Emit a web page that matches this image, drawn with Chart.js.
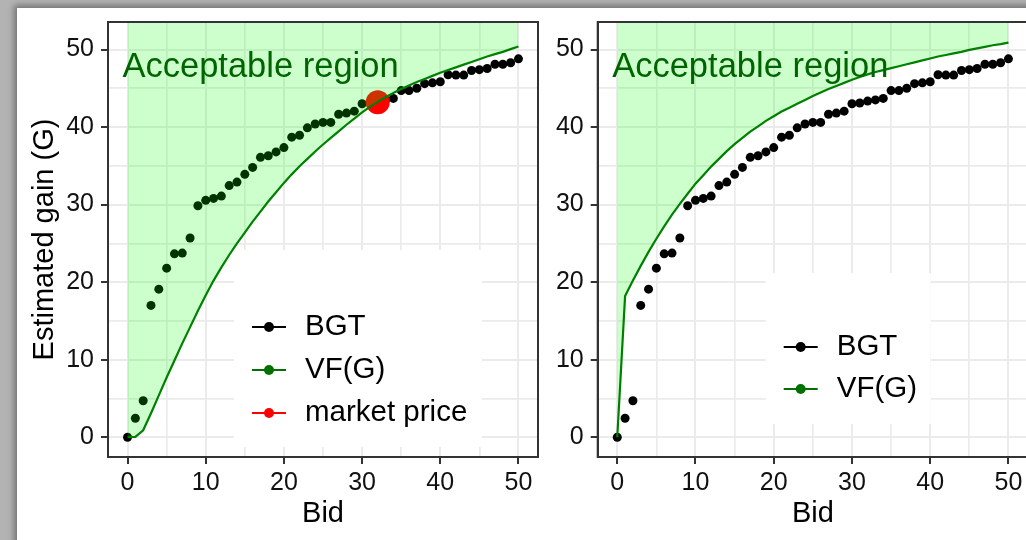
<!DOCTYPE html>
<html>
<head>
<meta charset="utf-8">
<script src="https://cdn.jsdelivr.net/npm/chart.js@4.4.1/dist/chart.umd.min.js"></script>
<style>
  html, body { margin: 0; padding: 0; }
  body { width: 1026px; height: 540px; overflow: hidden; position: relative; background: #b3b3b3; }
  #sheet { position: absolute; left: 17px; top: 8px; width: 1040px; height: 560px; background: #fff;
           box-shadow: -3px -3px 6px rgba(0,0,0,0.35); }
  canvas { position: absolute; top: 0; }
  #left { left: 0; }
  #right { left: 540px; }
</style>
</head>
<body>
<div id="sheet"></div>
<canvas id="left" width="560" height="540"></canvas>
<canvas id="right" width="500" height="540"></canvas>
<script>
// bids on the x axis
const bids = [0, 1, 2, 3, 4, 5, 6, 7, 8, 9, 10, 11, 12, 13, 14, 15, 16, 17, 18, 19, 20,
  21, 22, 23, 24, 25, 26, 27, 28, 29, 30, 31, 32, 33, 34, 35, 36, 37, 38, 39, 40,
  41, 42, 43, 44, 45, 46, 47, 48, 49, 50];

// estimated gain (BGT), same in both panels
const bgt = [0, 2.45, 4.7, 17.0, 19.1, 21.8, 23.65, 23.75, 25.7, 29.85, 30.55,
  30.8, 31.1, 32.45, 32.9, 33.9, 34.8, 36.1, 36.3, 36.8, 37.35,
  38.7, 38.95, 39.9, 40.4, 40.6, 40.6, 41.65, 41.8, 42.05, 43.0,
  43.1, 43.35, 43.5, 43.7, 44.7, 44.7, 45.0, 45.6, 45.7, 45.85,
  46.75, 46.7, 46.7, 47.3, 47.4, 47.55, 48.1, 48.1, 48.3, 48.8];

// value function, left panel
const vfLeft = [0, 0.05, 0.9, 3.1, 5.4, 7.7, 9.9, 12.1, 14.2, 16.3, 18.3,
  20.2, 21.9, 23.5, 25.0, 26.4, 27.8, 29.1, 30.4, 31.6, 32.8,
  33.9, 34.95, 35.9, 36.85, 37.75, 38.6, 39.45, 40.3, 41.1, 41.9,
  42.6, 43.25, 43.85, 44.4, 44.9, 45.35, 45.8, 46.2, 46.6, 47.0,
  47.35, 47.7, 48.05, 48.4, 48.75, 49.1, 49.4, 49.7, 50.05, 50.4];

// value function, right panel
const vfRight = [0, 18.2, 20.2, 22.1, 23.9, 25.6, 27.2, 28.7, 30.1, 31.4, 32.7,
  33.8, 34.9, 35.9, 36.9, 37.8, 38.6, 39.4, 40.1, 40.8, 41.4,
  42.0, 42.5, 43.0, 43.5, 44.0, 44.45, 44.9, 45.3, 45.7, 46.1,
  46.45, 46.8, 47.1, 47.35, 47.6, 47.85, 48.1, 48.35, 48.6, 48.85,
  49.1, 49.3, 49.5, 49.7, 49.95, 50.15, 50.35, 50.55, 50.7, 50.9];

// market price point (left panel only)
const marketBid = [32];
const marketGain = [43.2];

const xMajor = [0, 10, 20, 30, 40, 50];
const xMinor = [5, 15, 25, 35, 45];
const yMajor = [0, 10, 20, 30, 40, 50];
const yMinor = [5, 15, 25, 35, 45];

const regionText = 'Acceptable region';

Chart.defaults.font.family = '"Liberation Sans", Arial, sans-serif';
Chart.defaults.color = '#111';

const pts = (xs, ys) => xs.map((x, i) => ({ x: x, y: ys[i] }));

function axis(major, minor, min, max, title, fit, pad) {
  const all = major.concat(minor).sort((a, b) => a - b);
  return {
    type: 'linear',
    min: min,
    max: max,
    afterBuildTicks: s => { s.ticks = all.map(v => ({ value: v })); },
    afterFit: fit,
    ticks: {
      autoSkip: false,
      maxRotation: 0,
      padding: pad,
      font: { size: 25 },
      color: '#111',
      callback: v => major.includes(v) ? String(v) : ''
    },
    grid: {
      color: '#ebebeb',
      lineWidth: c => major.includes(c.tick.value) ? 2 : 1.7,
      tickColor: c => major.includes(c.tick.value) ? '#333' : 'rgba(0,0,0,0)',
      tickWidth: 2,
      tickLength: 7
    },
    border: { color: '#333', width: 2 },
    title: title
  };
}

// panel border on the top and right sides
const panelBox = {
  id: 'panelBox',
  afterDraw(chart) {
    const { ctx, chartArea: a } = chart;
    ctx.save();
    ctx.strokeStyle = '#333';
    ctx.lineWidth = 2;
    ctx.strokeRect(a.left, a.top, a.right - a.left, a.bottom - a.top);
    ctx.restore();
  }
};

// "Acceptable region" label, placed in data units
const regionLabel = {
  id: 'regionLabel',
  afterDatasetsDraw(chart) {
    const { ctx, scales } = chart;
    ctx.save();
    ctx.fillStyle = '#006400';
    ctx.font = '34.5px "Liberation Sans"';
    ctx.textBaseline = 'alphabetic';
    ctx.fillText(regionText, scales.x.getPixelForValue(-0.65), scales.y.getPixelForValue(46.4));
    ctx.restore();
  }
};

// ggplot-like legend inside the panel
const keyLegend = {
  id: 'keyLegend',
  afterDraw(chart, args, o) {
    const { ctx, chartArea: a } = chart;
    ctx.save();
    ctx.fillStyle = '#fff';
    ctx.fillRect(a.left + o.box[0], a.top + o.box[1], o.box[2], o.box[3]);
    o.names.forEach((name, i) => {
      const ds = chart.data.datasets.find(d => d.label === name);
      const col = ds.legendColor;
      const x = a.left + o.keyX;
      const y = a.top + o.rowY + i * o.rowGap;
      ctx.strokeStyle = col;
      ctx.lineWidth = 2;
      ctx.beginPath();
      ctx.moveTo(x - 17, y);
      ctx.lineTo(x + 17, y);
      ctx.stroke();
      ctx.fillStyle = col;
      ctx.beginPath();
      ctx.arc(x, y, 5, 0, Math.PI * 2);
      ctx.fill();
      ctx.fillStyle = '#000';
      ctx.font = '29.5px "Liberation Sans"';
      ctx.textBaseline = 'middle';
      ctx.fillText(name, x + 36, y);
    });
    ctx.restore();
  }
};

function vfSet(vals) {
  return {
    label: 'VF(G)',
    data: pts(bids, vals),
    borderColor: '#008000',
    legendColor: '#007000',
    borderWidth: 2.2,
    pointRadius: 0,
    tension: 0,
    fill: 'end',
    backgroundColor: 'rgba(0,255,0,0.2)',
    order: 0
  };
}

function bgtSet() {
  return {
    label: 'BGT',
    data: pts(bids, bgt),
    showLine: false,
    pointRadius: 4.5,
    pointBorderWidth: 0,
    pointBackgroundColor: '#000',
    legendColor: '#000',
    order: 2
  };
}

const yTitle = { display: true, text: 'Estimated gain (G)', font: { size: 29 }, color: '#000', padding: { top: 28 } };
const xTitle = { display: true, text: 'Bid', font: { size: 29 }, color: '#000', padding: { bottom: 9 } };

new Chart(document.getElementById('left'), {
  type: 'line',
  data: {
    datasets: [
      vfSet(vfLeft),
      {
        label: 'market price',
        data: pts(marketBid, marketGain),
        showLine: false,
        pointRadius: 12,
        pointBorderWidth: 0,
        pointBackgroundColor: '#ff0000',
        legendColor: '#ff0000',
        order: 1
      },
      bgtSet()
    ]
  },
  options: {
    responsive: false,
    animation: false,
    layout: { padding: { top: 22, right: 22, left: 0, bottom: 0 } },
    scales: {
      x: axis(xMajor, xMinor, -2.5, 52.5, xTitle, s => { s.height = 83; }, 4),
      y: axis(yMajor, yMinor, -2.55, 53.55, yTitle, s => { s.width = 108; }, 7)
    },
    plugins: {
      legend: { display: false },
      tooltip: { enabled: false },
      keyLegend: { names: ['BGT', 'VF(G)', 'market price'], box: [126, 228, 248, 197], keyX: 161, rowY: 305, rowGap: 43 }
    }
  },
  plugins: [regionLabel, keyLegend, panelBox]
});

new Chart(document.getElementById('right'), {
  type: 'line',
  data: {
    datasets: [vfSet(vfRight), bgtSet()]
  },
  options: {
    responsive: false,
    animation: false,
    layout: { padding: { top: 22, right: 12, left: 0, bottom: 0 } },
    scales: {
      x: axis(xMajor, xMinor, -2.5, 52.5, xTitle, s => { s.height = 83; }, 4),
      y: axis(yMajor, yMinor, -2.55, 53.55, { display: false }, s => { s.width = 57.7; }, 7)
    },
    plugins: {
      legend: { display: false },
      tooltip: { enabled: false },
      keyLegend: { names: ['BGT', 'VF(G)'], box: [168, 251, 165, 151], keyX: 203, rowY: 325, rowGap: 42 }
    }
  },
  plugins: [regionLabel, keyLegend, panelBox]
});
</script>
</body>
</html>
